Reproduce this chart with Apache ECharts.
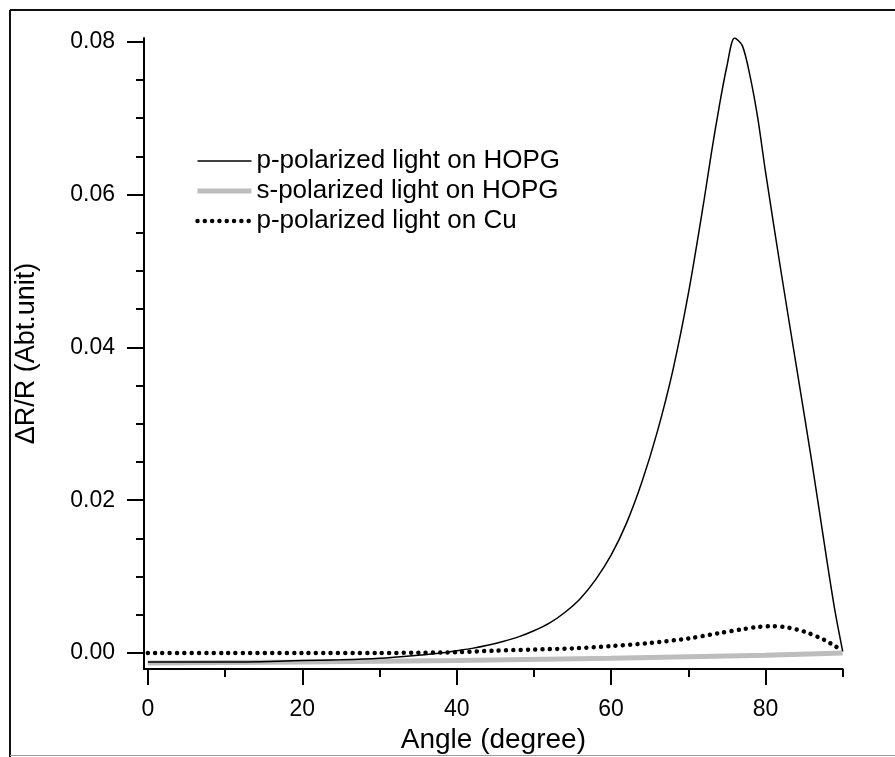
<!DOCTYPE html>
<html>
<head>
<meta charset="utf-8">
<script src="https://cdn.jsdelivr.net/npm/echarts@6/dist/echarts.min.js"></script>
<style>
html,body{margin:0;padding:0;background:#fff;}
#chart{width:895px;height:757px;}
</style>
</head>
<body>
<div id="chart"></div>
<script>
// ---- data ----
const hopgPAngle = [0, 10, 20, 25, 30, 35, 38, 40, 42, 44, 46, 48, 50, 52, 54, 56, 58, 60, 62, 64, 66, 68, 70, 72, 73, 74, 75, 76, 77, 78, 79, 80, 82, 84, 86, 88, 89, 90];
const hopgPValue = [-0.0012, -0.0012, -0.0010, -0.0009, -0.0007, -0.0003, 0.0000, 0.0003, 0.0006, 0.0010, 0.0015, 0.0021, 0.0029, 0.0039, 0.0053, 0.0071, 0.0096, 0.0128, 0.0170, 0.0224, 0.0290, 0.0370, 0.0470, 0.0590, 0.0655, 0.0715, 0.0768, 0.0805, 0.0795, 0.0755, 0.0700, 0.0630, 0.0500, 0.0375, 0.0250, 0.0118, 0.0055, 0.0002];

const hopgSAngle = [0, 20, 40, 60, 80, 90];
const hopgSValue = [-0.0013, -0.0012, -0.0010, -0.0007, -0.0003, 0.0000];

const cuPAngle = [0, 10, 20, 30, 35, 40, 45, 50, 55, 60, 65, 70, 74, 77, 79, 81, 83, 85, 87, 88, 89, 90];
const cuPValue = [0, 0, 0, 0, 0.00003, 0.0001, 0.0003, 0.00045, 0.0006, 0.0009, 0.0013, 0.0019, 0.0026, 0.0031, 0.0034, 0.0035, 0.0033, 0.0028, 0.0020, 0.0015, 0.0009, 0.0003];

const seriesNames = ['p-polarized light on HOPG', 's-polarized light on HOPG', 'p-polarized light on Cu'];

const xMajorTicks = [0, 20, 40, 60, 80];
const xMinorTicks = [10, 30, 50, 70, 90];
const yMajorTicks = [0, 0.02, 0.04, 0.06, 0.08];
const yMinorTicks = [0.005, 0.01, 0.015, 0.025, 0.03, 0.035, 0.045, 0.05, 0.055, 0.065, 0.07, 0.075];

const xTitle = 'Angle (degree)';
const yTitle = 'ΔR/R (Abt.unit)';

// ---- chart ----
const zip = (xs, ys) => xs.map((x, i) => [x, ys[i]]);
const FONT = "'Liberation Sans', Arial, sans-serif";

const styleP = {color: '#000', width: 1.5};
const styleS = {color: '#bdbdbd', width: 5};
const styleCu = {color: '#000', width: 4.5, type: [0.01, 7.3], cap: 'round'};

const chart = echarts.init(document.getElementById('chart'), null, {renderer: 'canvas'});

const baseX = {
  type: 'value', min: -0.5, max: 90, position: 'bottom',
  splitLine: {show: false}
};
const baseY = {
  type: 'value', min: -0.0021, max: 0.0805, position: 'left',
  splitLine: {show: false}
};

chart.setOption({
  animation: false,
  backgroundColor: '#fff',
  textStyle: {fontFamily: FONT},
  grid: {left: 144, top: 38, width: 698.7, height: 631, outerBoundsMode: 'none', containLabel: false},
  legend: {
    data: [
      {name: seriesNames[0], lineStyle: {width: styleP.width}, itemStyle: {opacity: 0}},
      {name: seriesNames[1], lineStyle: {width: styleS.width}, itemStyle: {opacity: 0}},
      {name: seriesNames[2], lineStyle: {width: styleCu.width}, itemStyle: {opacity: 0}}
    ],
    orient: 'vertical',
    left: 190, top: 143,
    itemWidth: 54, itemHeight: 2, itemGap: 4,
    textStyle: {fontSize: 26, color: '#000', fontFamily: FONT},
    selectedMode: false
  },
  xAxis: [
    Object.assign({}, baseX, {
      axisLine: {show: true, onZero: false, lineStyle: {color: '#000', width: 2}},
      axisTick: {show: true, customValues: xMajorTicks, length: 16, lineStyle: {color: '#000', width: 2}},
      axisLabel: {show: true, customValues: xMajorTicks, fontSize: 23, color: '#000', margin: 29, fontFamily: FONT},
      name: xTitle, nameLocation: 'middle', nameGap: 54,
      nameTextStyle: {fontSize: 28, color: '#000', fontFamily: FONT}
    }),
    Object.assign({}, baseX, {
      axisLine: {show: false, onZero: false},
      axisTick: {show: true, customValues: xMinorTicks, length: 8, lineStyle: {color: '#000', width: 2}},
      axisLabel: {show: false}
    })
  ],
  yAxis: [
    Object.assign({}, baseY, {
      axisLine: {show: true, onZero: false, lineStyle: {color: '#000', width: 2}},
      axisTick: {show: true, customValues: yMajorTicks, length: 17, lineStyle: {color: '#000', width: 2}},
      axisLabel: {show: true, customValues: yMajorTicks, fontSize: 23, color: '#000', margin: 29, fontFamily: FONT,
        formatter: v => v.toFixed(2)},
      name: yTitle, nameLocation: 'middle', nameGap: 104,
      nameTextStyle: {fontSize: 27, color: '#000', fontFamily: FONT}
    }),
    Object.assign({}, baseY, {
      axisLine: {show: false, onZero: false},
      axisTick: {show: true, customValues: yMinorTicks, length: 8, lineStyle: {color: '#000', width: 2}},
      axisLabel: {show: false}
    })
  ],
  graphic: [
    {type: 'line', shape: {x1: 10, y1: 10, x2: 895, y2: 10}, style: {stroke: '#111', lineWidth: 2}, silent: true},
    {type: 'line', shape: {x1: 10, y1: 10, x2: 10, y2: 757}, style: {stroke: '#111', lineWidth: 2}, silent: true},
    {type: 'line', shape: {x1: 10, y1: 755.5, x2: 895, y2: 755.5}, style: {stroke: '#9a9a9a', lineWidth: 1}, silent: true}
  ],
  series: [
    {
      name: seriesNames[1], type: 'line', data: zip(hopgSAngle, hopgSValue),
      xAxisIndex: 0, yAxisIndex: 0, symbol: 'none', smooth: false, z: 2,
      lineStyle: styleS, itemStyle: {color: styleS.color}
    },
    {
      name: seriesNames[0], type: 'line', data: zip(hopgPAngle, hopgPValue),
      xAxisIndex: 0, yAxisIndex: 0, symbol: 'none', smooth: 0.3, z: 3,
      lineStyle: styleP, itemStyle: {color: styleP.color}
    },
    {
      name: seriesNames[2], type: 'line', data: zip(cuPAngle, cuPValue),
      xAxisIndex: 0, yAxisIndex: 0, symbol: 'none', smooth: 0.3, z: 4,
      lineStyle: styleCu, itemStyle: {color: styleCu.color}
    }
  ]
});
</script>
</body>
</html>
